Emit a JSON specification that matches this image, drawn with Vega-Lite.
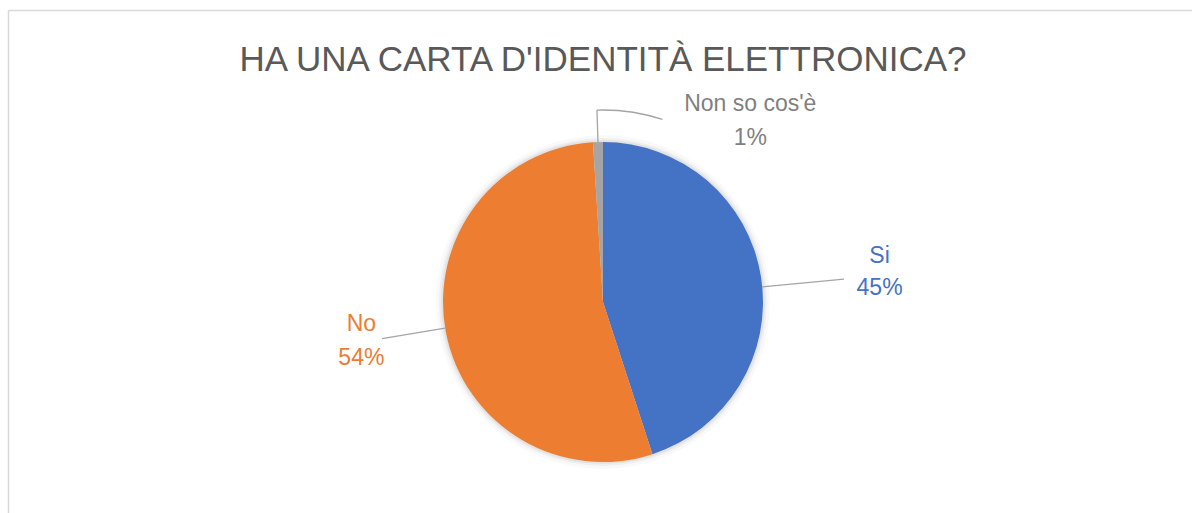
{
  "$schema": "https://vega.github.io/schema/vega-lite/v6.json",
  "autosize": "none",
  "width": 1190,
  "height": 584,
  "padding": {"left": 8, "top": 10, "right": -6, "bottom": -81},
  "background": "white",
  "title": {
    "text": "HA UNA CARTA D'IDENTITÀ ELETTRONICA?",
    "font": "Liberation Sans",
    "fontSize": 35,
    "fontWeight": "normal",
    "color": "#595959",
    "anchor": "middle",
    "frame": "group",
    "offset": -68
  },
  "data": {
    "values": [
      {"category": "Si", "value": 0.45, "order": 1},
      {"category": "No", "value": 0.54, "order": 2},
      {"category": "Non so cos'è", "value": 0.01, "order": 3}
    ]
  },
  "layer": [
    {
      "mark": {"type": "point", "opacity": 0},
      "encoding": {
        "x": {"field": "value", "type": "quantitative", "axis": {"orient": "top", "domain": true, "domainColor": "#D9D9D9", "domainWidth": 1.5, "ticks": false, "labels": false, "grid": false, "title": null}},
        "y": {"field": "value", "type": "quantitative", "axis": {"orient": "left", "domain": true, "domainColor": "#D9D9D9", "domainWidth": 1.5, "ticks": false, "labels": false, "grid": false, "title": null}}
      }
    },
    {
      "mark": {"type": "arc", "radius": 167, "color": "#000000", "opacity": 0.025},
      "encoding": {"theta": {"aggregate": "sum", "field": "value", "type": "quantitative", "stack": true}}
    },
    {
      "mark": {"type": "arc", "radius": 164, "color": "#000000", "opacity": 0.04},
      "encoding": {"theta": {"aggregate": "sum", "field": "value", "type": "quantitative", "stack": true}}
    },
    {
      "mark": {"type": "arc", "radius": 162, "color": "#000000", "opacity": 0.05},
      "encoding": {"theta": {"aggregate": "sum", "field": "value", "type": "quantitative", "stack": true}}
    },
    {
      "mark": {"type": "arc", "radius": 160},
      "encoding": {
        "theta": {"field": "value", "type": "quantitative", "stack": true, "scale": {"domain": [0, 1]}},
        "color": {"field": "category", "type": "nominal", "scale": {"domain": ["Si", "No", "Non so cos'è"], "range": ["#4472C4", "#ED7D31", "#A5A5A5"]}, "legend": null},
        "order": {"field": "order"}
      }
    },
    {
      "transform": [{"filter": "datum.order === 1"}],
      "mark": {"type": "arc", "radius": 242, "radius2": 160, "fill": "transparent", "stroke": "#A5A5A5", "strokeWidth": 1.3},
      "encoding": {
        "theta": {"datum": 0.235, "type": "quantitative"},
        "theta2": {"datum": 0.235}
      }
    },
    {
      "transform": [{"filter": "datum.order === 1"}],
      "mark": {"type": "arc", "radius": 224, "radius2": 160, "fill": "transparent", "stroke": "#A5A5A5", "strokeWidth": 1.3},
      "encoding": {
        "theta": {"datum": 0.7239, "type": "quantitative"},
        "theta2": {"datum": 0.7239}
      }
    },
    {
      "transform": [{"filter": "datum.order === 1"}],
      "mark": {"type": "arc", "radius": 192, "radius2": 160, "fill": "transparent", "stroke": "#A5A5A5", "strokeWidth": 1.3},
      "encoding": {
        "theta": {"datum": 0.995, "type": "quantitative"},
        "theta2": {"datum": 0.995}
      }
    },
    {
      "transform": [{"filter": "datum.order === 1"}],
      "mark": {"type": "arc", "radius": 192, "radius2": 192, "fill": "transparent", "stroke": "#A5A5A5", "strokeWidth": 1.3},
      "encoding": {
        "theta": {"datum": 0.995, "type": "quantitative"},
        "theta2": {"datum": 1.05}
      }
    },
    {
      "mark": {"type": "text", "radius": 278, "dx": 2, "dy": -3, "fontSize": 23, "color": "#4472C4", "baseline": "middle", "align": "center"},
      "encoding": {
        "theta": {"field": "value", "type": "quantitative", "stack": true},
        "order": {"field": "order"},
        "text": {"condition": {"test": "datum.order === 1", "field": "category"}, "value": ""}
      }
    },
    {
      "mark": {"type": "text", "radius": 278, "dx": 2, "dy": 29, "fontSize": 23, "color": "#4472C4", "baseline": "middle", "align": "center"},
      "encoding": {
        "theta": {"field": "value", "type": "quantitative", "stack": true},
        "order": {"field": "order"},
        "text": {"condition": {"test": "datum.order === 1", "field": "value", "type": "quantitative", "format": ".0%"}, "value": ""}
      }
    },
    {
      "mark": {"type": "text", "radius": 246, "dx": 0, "dy": -24, "fontSize": 23, "color": "#ED7D31", "baseline": "middle", "align": "center"},
      "encoding": {
        "theta": {"field": "value", "type": "quantitative", "stack": true},
        "order": {"field": "order"},
        "text": {"condition": {"test": "datum.order === 2", "field": "category"}, "value": ""}
      }
    },
    {
      "mark": {"type": "text", "radius": 246, "dx": 0, "dy": 10, "fontSize": 23, "color": "#ED7D31", "baseline": "middle", "align": "center"},
      "encoding": {
        "theta": {"field": "value", "type": "quantitative", "stack": true},
        "order": {"field": "order"},
        "text": {"condition": {"test": "datum.order === 2", "field": "value", "type": "quantitative", "format": ".0%"}, "value": ""}
      }
    },
    {
      "mark": {"type": "text", "radius": 183, "dx": 153, "dy": -15, "fontSize": 23, "color": "#7F7F7F", "baseline": "middle", "align": "center"},
      "encoding": {
        "theta": {"field": "value", "type": "quantitative", "stack": true},
        "order": {"field": "order"},
        "text": {"condition": {"test": "datum.order === 3", "field": "category"}, "value": ""}
      }
    },
    {
      "mark": {"type": "text", "radius": 183, "dx": 153, "dy": 19, "fontSize": 23, "color": "#7F7F7F", "baseline": "middle", "align": "center"},
      "encoding": {
        "theta": {"field": "value", "type": "quantitative", "stack": true},
        "order": {"field": "order"},
        "text": {"condition": {"test": "datum.order === 3", "field": "value", "type": "quantitative", "format": ".0%"}, "value": ""}
      }
    }
  ],
  "config": {
    "font": "Liberation Sans",
    "view": {"stroke": null}
  }
}
